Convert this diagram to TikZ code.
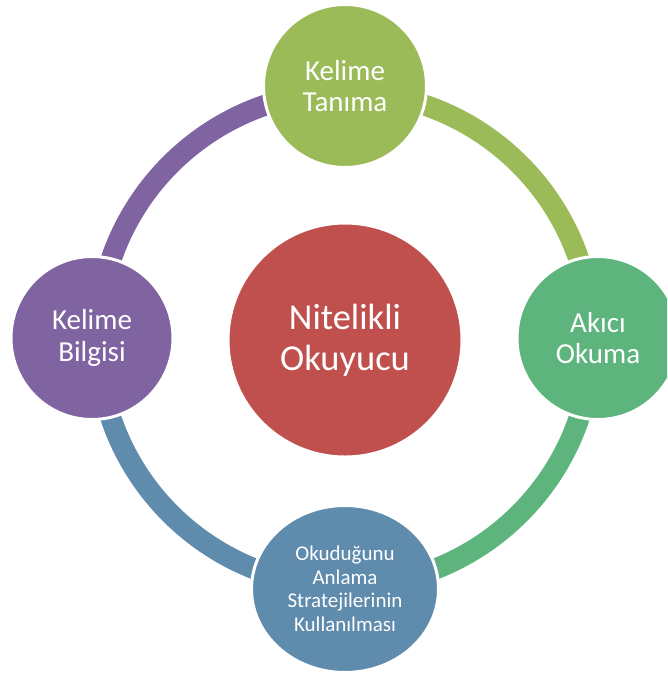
\documentclass[tikz,border=0pt]{standalone}
\usepackage{fontspec}
\setmainfont{Carlito}
\usetikzlibrary{shapes.geometric}
\definecolor{cRed}{HTML}{C0504D}
\definecolor{cGreenL}{HTML}{9BBB59}
\definecolor{cPurple}{HTML}{8064A2}
\definecolor{cGreen}{HTML}{5DB47D}
\definecolor{cBlue}{HTML}{5F8BAD}
\begin{document}
\begin{tikzpicture}[x=1pt,y=-1pt,
  bub/.style={ellipse, fill=#1, draw=white, line width=3pt, text=white, align=center, inner sep=0pt},
  ringarc/.style={line width=21pt, draw=#1},
  big/.style={font=\fontsize{29}{31.5}\selectfont},
  huge/.style={font=\fontsize{36.5}{41}\selectfont},
  small/.style={font=\fontsize{21}{23.5}\selectfont}]
\useasboundingbox (0,0) rectangle (667,675);
\clip (0,0) rectangle (667,675);
\fill[white] (0,0) rectangle (667,675);
\coordinate (c) at (345,339);
% ring arcs
\draw[ringarc=cGreenL] (c) ++(0:247) arc[start angle=0, end angle=-90, radius=247];
\draw[ringarc=cPurple] (c) ++(-90:247) arc[start angle=-90, end angle=-180, radius=247];
\draw[ringarc=cBlue] (c) ++(180:247) arc[start angle=180, end angle=90, radius=247];
\draw[ringarc=cGreen] (c) ++(90:247) arc[start angle=90, end angle=0, radius=247];
% nodes
\node[bub=cGreenL, big, minimum width=163, minimum height=163] (top) at (345,86) {Kelime\\Tanıma};
\node[bub=cPurple, big, minimum width=162, minimum height=163] (left) at (92,338) {Kelime\\Bilgisi};
\node[bub=cGreen, big, minimum width=162, minimum height=163] (right) at (598,338) {Akıcı\\Okuma};
\node[bub=cBlue, small, minimum width=187, minimum height=167] (bottom) at (345,589) {Okuduğunu\\Anlama\\Stratejilerinin\\Kullanılması};
\node[bub=cRed, huge, minimum width=234, minimum height=234] (center) at (345,340) {Nitelikli\\Okuyucu};
\end{tikzpicture}
\end{document}
